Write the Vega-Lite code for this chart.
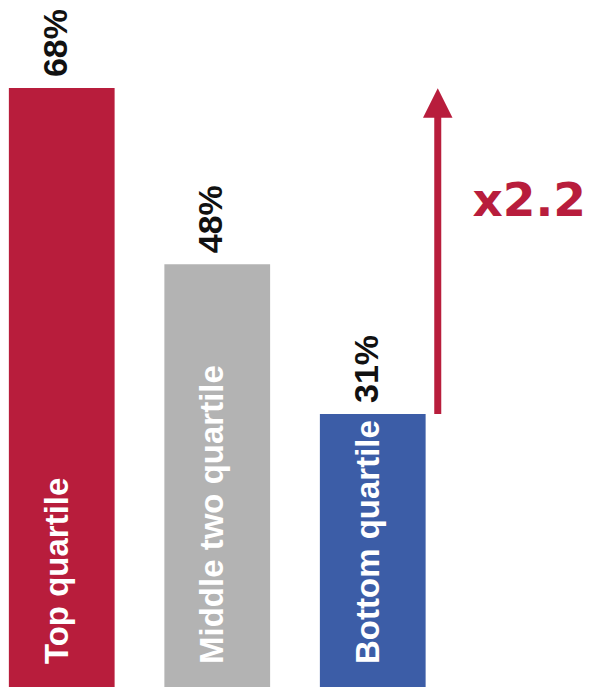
{
  "$schema": "https://vega.github.io/schema/vega-lite/v6.json",
  "width": 590,
  "height": 687,
  "padding": 0,
  "autosize": {"type": "none"},
  "background": "white",
  "config": {"view": {"stroke": null}},
  "datasets": {
    "bars": [
      {"quartile": "Top quartile", "value": 0.68},
      {"quartile": "Middle two quartile", "value": 0.48},
      {"quartile": "Bottom quartile", "value": 0.31}
    ],
    "arrow": [
      {"quartile": "Bottom quartile", "start": 0.31, "end": 0.68}
    ],
    "ratio": [
      {"quartile": "ratio", "label": "x2.2", "pos": 0.535}
    ]
  },
  "encoding": {
    "x": {
      "field": "quartile",
      "type": "nominal",
      "sort": null,
      "axis": null,
      "scale": {
        "domain": ["Top quartile", "Middle two quartile", "Bottom quartile", "ratio"],
        "paddingInner": 0.32,
        "paddingOuter": 0.057
      }
    }
  },
  "layer": [
    {
      "data": {"name": "bars"},
      "mark": {"type": "bar"},
      "encoding": {
        "y": {"field": "value", "type": "quantitative", "axis": null, "scale": {"domain": [0, 0.78], "nice": false, "zero": true}},
        "color": {
          "field": "quartile",
          "type": "nominal",
          "legend": null,
          "scale": {"domain": ["Top quartile", "Middle two quartile", "Bottom quartile"], "range": ["#B81D3C", "#B3B3B3", "#3C5DA7"]}
        }
      }
    },
    {
      "data": {"name": "bars"},
      "mark": {"type": "text", "angle": 270, "align": "left", "baseline": "alphabetic", "font": "Liberation Sans", "fontWeight": "bold", "fontSize": 34, "color": "#111111", "xOffset": 5, "yOffset": -11},
      "encoding": {
        "y": {"field": "value", "type": "quantitative"},
        "text": {"field": "value", "type": "quantitative", "format": ".0%"}
      }
    },
    {
      "data": {"name": "bars"},
      "mark": {"type": "text", "angle": 270, "align": "left", "baseline": "alphabetic", "font": "Liberation Sans", "fontWeight": "bold", "fontSize": 33, "color": "white", "xOffset": 6, "yOffset": -23},
      "encoding": {
        "y": {"datum": 0, "type": "quantitative"},
        "text": {"field": "quartile", "type": "nominal"}
      }
    },
    {
      "data": {"name": "arrow"},
      "mark": {"type": "rule", "color": "#B81D3C", "strokeWidth": 7, "xOffset": 65, "y2Offset": 20},
      "encoding": {
        "y": {"field": "start", "type": "quantitative"},
        "y2": {"field": "end"}
      }
    },
    {
      "data": {"name": "arrow"},
      "mark": {"type": "point", "shape": "M-1,1L0,-1L1,1Z", "filled": true, "opacity": 1, "color": "#B81D3C", "size": 870, "xOffset": 65, "yOffset": 15},
      "encoding": {
        "y": {"field": "end", "type": "quantitative"}
      }
    },
    {
      "data": {"name": "ratio"},
      "mark": {"type": "text", "align": "left", "baseline": "alphabetic", "font": "DejaVu Sans", "fontWeight": "bold", "fontSize": 47, "color": "#B81D3C", "xOffset": -3},
      "encoding": {
        "x": {"field": "quartile", "type": "nominal", "bandPosition": 0},
        "y": {"field": "pos", "type": "quantitative"},
        "text": {"field": "label", "type": "nominal"}
      }
    }
  ]
}
